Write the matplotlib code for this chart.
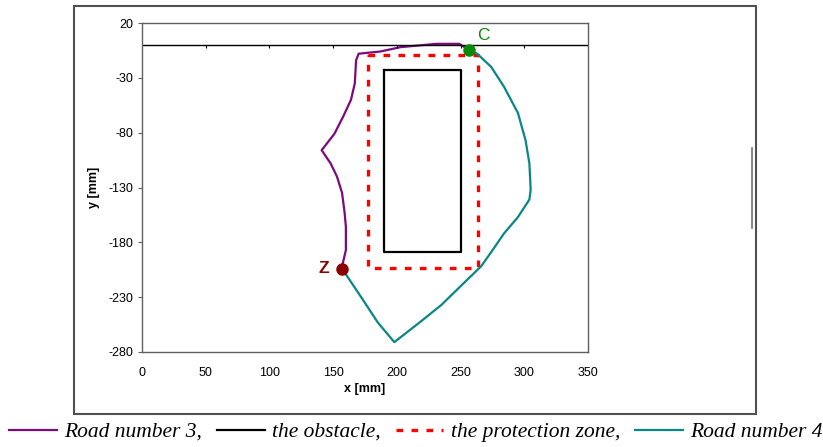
import matplotlib
matplotlib.use("Agg")
import matplotlib.pyplot as plt
from matplotlib.lines import Line2D
from matplotlib.patches import Rectangle

plt.rcParams["axes.unicode_minus"] = False

# ── data ─────────────────────────────────────────────────────────────────
road3_x = [157, 160, 160, 159, 157, 153, 148, 141, 151, 158, 164, 167, 168,
           170, 187, 203, 231, 249, 257]
road3_y = [-202, -187, -166, -153, -135, -120, -108, -96, -81, -65, -50, -35,
           -14, -8, -6, -2, 1, 1, -5]

road4_x = [257, 263, 274, 284, 295, 301, 304, 305, 304, 295, 284, 274, 266,
           250, 235, 219, 198, 185, 172, 157]
road4_y = [-5, -8, -20, -38, -62, -87, -108, -132, -141, -157, -172, -189,
           -202, -220, -237, -252, -271, -253, -230, -204]

obstacle_x = [190, 250, 250, 190, 190]
obstacle_y = [-23, -23, -189, -189, -23]

zone_x = [177, 264, 264, 177, 177]
zone_y = [-9, -9, -203, -203, -9]

point_c = (257, -5)
point_z = (157, -204)

x_ticks = [0, 50, 100, 150, 200, 250, 300, 350]
y_ticks = [20, -30, -80, -130, -180, -230, -280]

PURPLE = "#7B0A7E"
TEAL = "#0A8686"
RED = "#FF0000"
GREEN = "#0A8A0A"
DARKRED = "#8B0000"
SPINE = "#606060"

fig = plt.figure(figsize=(8.23, 4.47), dpi=100)
fig.patch.set_facecolor("white")

# outer chart frame (Excel chart area)
fig.patches.append(Rectangle((74 / 823, 1 - 414 / 447), (756 - 74) / 823,
                             (414 - 6) / 447, transform=fig.transFigure,
                             fill=False, edgecolor="#505050", lw=1.5))
# stray vertical stroke at the right
fig.lines.append(Line2D([752 / 823, 752 / 823], [1 - 148 / 447, 1 - 228 / 447],
                        transform=fig.transFigure, color="#707070", lw=1.2))

ax = fig.add_axes([142 / 823, 1 - 352 / 447, 446 / 823, 329 / 447])
ax.set_xlim(0, 350)
ax.set_ylim(-280, 20)

ax.plot(road3_x, road3_y, color=PURPLE, lw=1.6, label="Road number 3,")
ax.plot(obstacle_x, obstacle_y, color="black", lw=1.6, label="the obstacle,")
ax.plot(zone_x, zone_y, color=RED, lw=2.4, linestyle=(0, (2, 2.5)),
        label="the protection zone,")
ax.plot(road4_x, road4_y, color=TEAL, lw=1.6, label="Road number 4")

ax.plot(*point_c, "o", color=GREEN, ms=8, zorder=5)
ax.plot(*point_z, "o", color=DARKRED, ms=8, zorder=5)
ax.text(point_c[0] + 11, point_c[1] + 14, "C", color=GREEN, fontsize=12.5,
        family="Liberation Sans", ha="center", va="center")
ax.text(point_z[0] - 14, point_z[1], "Z", color=DARKRED, fontsize=12.5,
        family="Liberation Sans", weight="bold", ha="center", va="center")

# x axis crosses at y = 0, labels stay at the bottom
ax.axhline(0, color="black", lw=1)
ax.vlines(x_ticks[1:], -3, 0, color="black", lw=0.8)

ax.set_xticks(x_ticks)
ax.set_yticks(y_ticks)
ax.tick_params(axis="x", length=0, pad=11, labelsize=9)
ax.tick_params(axis="y", length=3, width=0.8, pad=3, labelsize=9,
               color=SPINE)
for lab in ax.get_xticklabels() + ax.get_yticklabels():
    lab.set_family("Liberation Sans")
for s in ax.spines.values():
    s.set_color(SPINE)
    s.set_linewidth(1)

ax.set_xlabel("x [mm]", fontsize=9, weight="bold", family="Liberation Sans",
              labelpad=3)
ax.set_ylabel("y [mm]", fontsize=9, weight="bold", family="Liberation Sans",
              labelpad=6)

fig.legend(loc="center", bbox_to_anchor=(416 / 823, 1 - 432 / 447), ncol=4,
           frameon=False, handlelength=2.2, handletextpad=0.35,
           columnspacing=0.7, borderaxespad=0,
           prop={"family": "Liberation Serif", "style": "italic",
                 "size": 15.5})

fig.savefig("out.png", dpi=100, facecolor="white")
